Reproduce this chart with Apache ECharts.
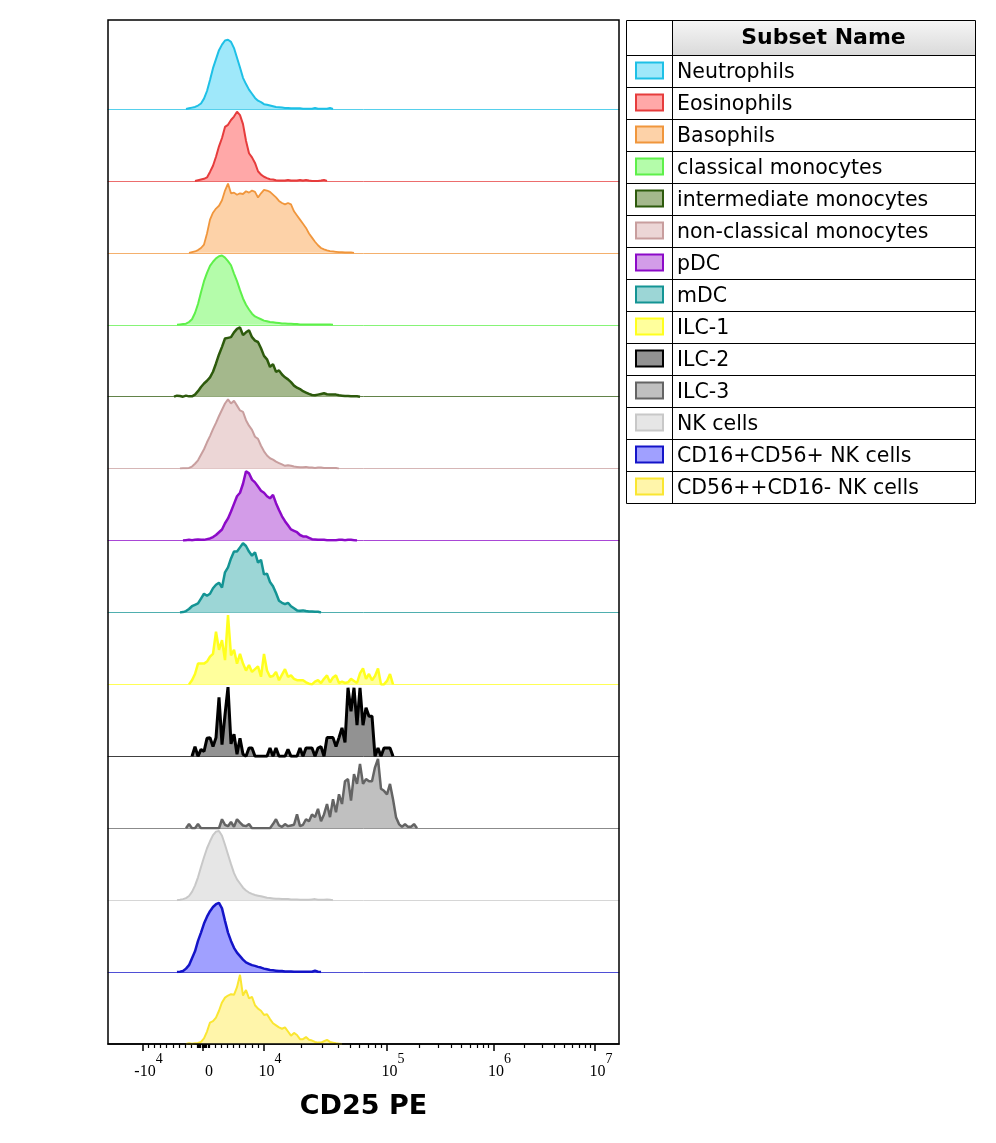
<!DOCTYPE html>
<html>
<head>
<meta charset="utf-8">
<script src="https://cdn.jsdelivr.net/npm/echarts@6/dist/echarts.min.js"></script>
<style>
html, body { margin: 0; padding: 0; background: #fff; }
#chart { width: 996px; height: 1143px; }
</style>
</head>
<body>
<div id="chart"></div>
<script>
// Subsets, top row to bottom row
const SUBSETS = ['Neutrophils', 'Eosinophils', 'Basophils', 'classical monocytes',
    'intermediate monocytes', 'non-classical monocytes', 'pDC', 'mDC', 'ILC-1', 'ILC-2',
    'ILC-3', 'NK cells', 'CD16+CD56+ NK cells', 'CD56++CD16- NK cells'];

// Histogram colours
const LINE_COLORS = ['#1ec0e6', '#e63c3c', '#f0963c', '#5ef04a', '#2d5a0c', '#c89e9e', '#8c0ac8',
    '#149494', '#ffff1e', '#000000', '#646464', '#c8c8c8', '#1414c8', '#fae632'];
const FILL_COLORS = ['#9fe8fa', '#ffa8a8', '#fdd2a8', '#b4fcaa', '#a4b88c', '#ecd6d6', '#d39ce8',
    '#9cd6d6', '#ffff9c', '#929292', '#c0c0c0', '#e6e6e6', '#a0a0ff', '#fff5aa'];
const LINE_WIDTHS = [2, 2, 1.8, 2, 2.5, 2, 2.5, 2.5, 2.5, 3, 2.5, 2, 2.5, 2];

// First bin of each histogram on the display (channel) scale, bins are 3 channels wide
const START_CHANNELS = [78, 87, 81, 69, 66, 72, 75, 72, 81, 84, 78, 69, 69, 78];
const BIN_WIDTH = 3;

// Counts normalized to mode (%)
const NEUTROPHILS = [0, 1, 2, 3, 5, 8, 15, 26, 42, 59, 72, 85, 93, 99, 100, 97, 88, 74, 60, 45,
    36, 28, 22, 16, 12, 10, 7, 6, 5, 4, 3, 2.5, 2, 1.5, 1.5, 1, 1, 1, 1, 0.5,
    0.5, 0.5, 0.5, 1.5, 0.5, 0.5, 0.5, 0.5, 1.5, 0];
const EOSINOPHILS = [0, 1, 2, 3, 5, 13, 22, 35, 50, 62, 78, 81, 88, 93, 100, 95, 82, 58, 40, 34,
    26, 14, 9, 6, 4, 2.5, 2, 1, 0.5, 0.5, 0.5, 1.5, 0.5, 0.5, 0.5, 1.5, 0.5, 1.5, 0.5, 0,
    0, 0, 0.5, 1.5, 0];
const BASOPHILS = [0, 1, 2, 4, 7, 12, 28, 48, 58, 64, 68, 76, 90, 100, 86, 87, 84, 86, 85, 89,
    87, 90, 88, 80, 86, 91, 90, 88, 84, 80, 75, 72, 70, 72, 70, 60, 54, 48, 42, 36,
    28, 22, 16, 11, 7, 5, 3.5, 2.5, 2, 1.5, 1, 1, 0.5, 0.5, 0.5, 0];
const CLASSICAL_MONO = [0, 0.5, 1, 1.5, 4, 8, 17, 30, 47, 63, 75, 85, 91, 96, 99, 100, 97, 92, 86, 74,
    63, 50, 38, 29, 22, 16, 12, 10, 8, 6, 5, 4, 3.5, 3, 2.5, 2, 2, 1.5, 1.5, 1,
    1, 0.5, 0.5, 0.5, 0.5, 0.5, 0.5, 0.5, 0.5, 0.5, 0.5, 0.5, 0];
const INTERMEDIATE_MONO = [0, 1.5, 1, 0, 1.5, 0.5, 0.5, 3, 8, 14, 19, 23, 28, 36, 48, 61, 72, 84, 85, 86,
    93, 98, 100, 89, 93, 96, 86, 81, 79, 70, 59, 54, 43, 47, 36, 38, 32, 28, 25, 21,
    16, 13, 11, 8, 6, 4, 2.5, 2, 3, 4, 5, 3.5, 3, 3, 3, 2, 1.5, 1, 1, 0.5,
    0.5, 0.5, 0];
const NONCLASSICAL_MONO = [0, 0.5, 0.5, 1, 3, 7, 12, 20, 28, 38, 47, 57, 66, 76, 85, 94, 100, 94, 98, 91,
    84, 82, 70, 62, 56, 46, 43, 33, 25, 19, 15, 13, 10, 8, 6, 4, 5, 4, 3, 2.5,
    2, 2, 2.5, 1.5, 1.5, 1, 1.5, 1.5, 1, 1, 1, 1, 1, 0];
const PDC = [0, 0.5, 1, 0.5, 1, 1.5, 1, 1, 2, 3, 5, 8, 12, 16, 25, 32, 42, 53, 64, 69,
    82, 100, 97, 88, 84, 78, 72, 69, 64, 61, 66, 54, 44, 35, 28, 22, 16, 14, 12, 8,
    6, 6, 4, 2, 1.5, 1, 1, 1, 0.5, 0.5, 0.5, 0.5, 1, 1, 0.5, 1, 1, 0.5, 0];
const MDC = [0, 0.5, 2, 5, 9, 11, 13, 20, 27, 24, 27, 35, 40, 43, 36, 58, 65, 78, 88, 88,
    94, 100, 96, 88, 82, 87, 72, 76, 55, 56, 44, 38, 28, 17, 14, 12, 14, 9, 6, 3,
    2.5, 3, 2, 1.5, 1.5, 1, 1, 0];
const ILC1 = [0, 6, 15, 30, 30, 30, 33, 40, 44, 76, 50, 64, 35, 100, 42, 50, 30, 44, 30, 20,
    28, 18, 22, 26, 11, 44, 20, 11, 12, 18, 6, 14, 22, 11, 13, 8, 6, 6, 6, 3,
    1, 0, 4, 6, 2, 8, 13, 3, 10, 13, 2, 4, 2, 3, 8, 5, 2, 16, 23, 8,
    15, 6, 12, 23, 0, 0, 5, 15, 0];
const ILC2 = [0, 14, 0, 10, 7, 26, 27, 14, 27, 85, 17, 60, 100, 18, 32, 3, 26, 3, 0, 12,
    12, 0, 0, 0, 0, 0, 12, 0, 12, 0, 0, 0, 10, 0, 0, 0, 12, 0, 12, 12,
    12, 0, 12, 14, 0, 27, 27, 27, 14, 27, 41, 20, 99, 65, 99, 45, 99, 45, 70, 58,
    58, 0, 12, 0, 12, 12, 12, 0];
const ILC3 = [0, 6, 0, 0, 6, 0, 0, 0, 0, 0, 0, 0, 13, 5, 3, 9, 2, 13, 8, 4,
    3, 6, 0, 0, 0, 0, 0, 0, 0, 6, 13, 4, 2, 6, 3, 4, 5, 20, 3, 5,
    13, 10, 20, 16, 28, 10, 20, 35, 16, 42, 23, 49, 35, 68, 71, 40, 78, 64, 93, 64,
    71, 68, 68, 88, 100, 57, 54, 49, 64, 42, 16, 6, 2, 6, 2, 2, 6, 0];
const NK_CELLS = [0, 0.5, 1.5, 3, 6, 12, 21, 33, 48, 62, 75, 85, 94, 99, 100, 93, 80, 66, 52, 39,
    30, 24, 18, 14, 11, 9, 7.5, 6.5, 5.5, 4.5, 3.5, 3, 2.5, 2, 2, 1.5, 1.5, 1.5, 1, 1,
    1, 0.5, 0.5, 0.5, 0.5, 1, 1.5, 0.5, 0.5, 0.5, 1, 0.5, 0];
const CD16_CD56_NK = [0, 0.5, 1.5, 5, 10, 20, 30, 45, 57, 70, 80, 88, 94, 98, 100, 92, 74, 57, 45, 35,
    28, 23, 18, 14, 12, 10, 9, 7.5, 6.5, 5, 4, 3, 2.5, 2, 1.5, 1.5, 1, 1, 1, 0.5,
    0.5, 0.5, 0.5, 0.5, 0.5, 0.5, 2, 0.5, 0];
const CD56BRIGHT_NK = [0, 1, 0.5, 1, 1.5, 3, 8, 18, 31, 33, 38, 48, 60, 67, 70, 72, 71, 82, 100, 70,
    78, 66, 68, 56, 51, 48, 42, 43, 36, 30, 27, 24, 22, 24, 18, 12, 16, 13, 7, 7,
    10, 6, 5, 3, 2, 2, 4, 6, 3, 2, 1, 0.5, 0];

const HISTOGRAMS = [NEUTROPHILS, EOSINOPHILS, BASOPHILS, CLASSICAL_MONO, INTERMEDIATE_MONO,
    NONCLASSICAL_MONO, PDC, MDC, ILC1, ILC2, ILC3, NK_CELLS, CD16_CD56_NK, CD56BRIGHT_NK];

// CD25 PE axis: decade values and where they sit on the display (channel) scale
const TICK_VALUES = [-1e4, 0, 1e4, 1e5, 1e6, 1e7];
const TICK_CHANNELS = [34.5, 95, 156, 279, 385.5, 487];
const AXIS_MAX = 511;
const Y_MAX = 104;

// Layout
const PLOT_LEFT = 108, PLOT_TOP = 20, PLOT_W = 511, PLOT_BOTTOM = 1044;
const FIRST_BASE = 109;
const ROW_STEP = (PLOT_BOTTOM - FIRST_BASE) / (SUBSETS.length - 1);
const ROW_H = 72;

// biexponential-ish mapping used only for the minor tick marks
function channelOf(v) {
    if (v <= 0) return TICK_CHANNELS[1] + (v / 1e4) * (TICK_CHANNELS[1] - TICK_CHANNELS[0]);
    if (v <= 1e4) return TICK_CHANNELS[1] + (v / 1e4) * (TICK_CHANNELS[2] - TICK_CHANNELS[1]);
    const k = Math.floor(Math.log10(v) + 1e-9);
    const i = k - 2;
    return TICK_CHANNELS[i] + (Math.log10(v) - k) * (TICK_CHANNELS[i + 1] - TICK_CHANNELS[i]);
}

const minorTicks = [];
for (let v = -9000; v <= 9000; v += 1000) {
    if (v !== 0) minorTicks.push(channelOf(v));
}
for (let v = -800; v <= 800; v += 200) {
    minorTicks.push(channelOf(v));
}
[1e4, 1e5, 1e6].forEach(d => {
    for (let m = 2; m <= 9; m++) minorTicks.push(channelOf(m * d));
});

function tickLabel(ch) {
    const i = TICK_CHANNELS.findIndex(c => Math.abs(c - ch) < 0.01);
    if (i < 0) return '';
    const v = TICK_VALUES[i];
    if (v === 0) return '{b|0}';
    const e = Math.round(Math.log10(Math.abs(v)));
    return '{b|' + (v < 0 ? '-10' : '10') + '}{sup|' + e + '}';
}

const grids = [], xAxes = [], yAxes = [], series = [];
HISTOGRAMS.forEach((values, k) => {
    const base = FIRST_BASE + k * ROW_STEP;
    grids.push({ left: PLOT_LEFT, top: base - ROW_H, width: PLOT_W, height: ROW_H, outerBoundsMode: 'none' });
    const last = k === HISTOGRAMS.length - 1;
    xAxes.push({
        type: 'value', gridIndex: k, min: 0, max: AXIS_MAX, position: 'bottom',
        axisLine: { show: true, lineStyle: last ? { color: '#000', width: 1.5 } : { color: LINE_COLORS[k], width: 1, opacity: 0.75 } },
        axisTick: last ? { show: true, customValues: TICK_CHANNELS, length: 7, lineStyle: { color: '#000', width: 1.5 } } : { show: false },
        axisLabel: last ? {
            show: true, customValues: TICK_CHANNELS, formatter: tickLabel, margin: 8,
            padding: [0, 0, 0, 12],
            rich: {
                b: { fontFamily: 'Liberation Serif', fontSize: 16, color: '#000', verticalAlign: 'bottom', lineHeight: 28 },
                sup: { fontFamily: 'Liberation Serif', fontSize: 14, color: '#000', verticalAlign: 'top', lineHeight: 12 }
            }
        } : { show: false },
        splitLine: { show: false },
        name: last ? 'CD25 PE' : '',
        nameLocation: 'middle',
        nameGap: 49,
        nameTextStyle: { fontFamily: 'DejaVu Sans', fontWeight: 'bold', fontSize: 27, color: '#000' }
    });
    yAxes.push({ type: 'value', gridIndex: k, min: 0, max: Y_MAX, show: false });
    series.push({
        name: SUBSETS[k],
        type: 'line',
        xAxisIndex: k,
        yAxisIndex: k,
        symbol: 'none',
        data: values.map((y, i) => [START_CHANNELS[k] + i * BIN_WIDTH, y]),
        lineStyle: { color: LINE_COLORS[k], width: LINE_WIDTHS[k] },
        itemStyle: { color: LINE_COLORS[k] },
        areaStyle: { color: FILL_COLORS[k], opacity: 1 },
        emphasis: { disabled: true },
        z: 3
    });
});

// minor ticks on the bottom axis
xAxes.push({
    type: 'value', gridIndex: HISTOGRAMS.length - 1, min: 0, max: AXIS_MAX, position: 'bottom',
    axisLine: { show: false },
    axisTick: { show: true, customValues: minorTicks, length: 4, lineStyle: { color: '#000', width: 1.2 } },
    axisLabel: { show: false },
    splitLine: { show: false }
});

// subset legend table
const T_LEFT = 626, T_RIGHT = 975, T_TOP = 20, T_SPLIT = 672, HEAD_H = 35, ROW_T = 32;
const T_BOTTOM = T_TOP + HEAD_H + SUBSETS.length * ROW_T;
const legendEls = [];
legendEls.push({
    type: 'rect', shape: { x: T_SPLIT, y: T_TOP, width: T_RIGHT - T_SPLIT, height: HEAD_H },
    style: { fill: new echarts.graphic.LinearGradient(0, 0, 0, 1, [
        { offset: 0, color: '#f6f6f6' }, { offset: 1, color: '#dadada' }]) }
});
legendEls.push({
    type: 'text', x: (T_SPLIT + T_RIGHT) / 2, y: T_TOP + HEAD_H / 2 + 1,
    style: { text: 'Subset Name', fontFamily: 'DejaVu Sans', fontWeight: 'bold', fontSize: 22, fill: '#000',
        align: 'center', verticalAlign: 'middle', textAlign: 'center', textVerticalAlign: 'middle' }
});
SUBSETS.forEach((name, i) => {
    const y = T_TOP + HEAD_H + i * ROW_T;
    legendEls.push({
        type: 'line', shape: { x1: T_LEFT, y1: y + 0.5, x2: T_RIGHT, y2: y + 0.5 },
        style: { stroke: '#000', lineWidth: 1 }
    });
    legendEls.push({
        type: 'rect', shape: { x: 636, y: y + 7.5, width: 27, height: 16 },
        style: { fill: FILL_COLORS[i], stroke: LINE_COLORS[i], lineWidth: 2 }
    });
    legendEls.push({
        type: 'text', x: 677, y: y + 18,
        style: { text: name, fontFamily: 'DejaVu Sans', fontSize: 20.5, fill: '#000',
            align: 'left', verticalAlign: 'middle', textAlign: 'left', textVerticalAlign: 'middle' }
    });
});
legendEls.push({
    type: 'rect', shape: { x: T_LEFT + 0.5, y: T_TOP + 0.5, width: T_RIGHT - T_LEFT, height: T_BOTTOM - T_TOP },
    style: { fill: 'none', stroke: '#000', lineWidth: 1 }
});
legendEls.push({
    type: 'line', shape: { x1: T_SPLIT + 0.5, y1: T_TOP, x2: T_SPLIT + 0.5, y2: T_BOTTOM },
    style: { stroke: '#000', lineWidth: 1 }
});

// plot frame
legendEls.push({
    type: 'rect', z: 100,
    shape: { x: PLOT_LEFT, y: PLOT_TOP, width: PLOT_W, height: PLOT_BOTTOM - PLOT_TOP },
    style: { fill: 'none', stroke: '#000', lineWidth: 1.5 }
});

const chart = echarts.init(document.getElementById('chart'));
chart.setOption({
    animation: false,
    backgroundColor: '#fff',
    grid: grids,
    xAxis: xAxes,
    yAxis: yAxes,
    series: series,
    graphic: { elements: legendEls }
});
</script>
</body>
</html>
